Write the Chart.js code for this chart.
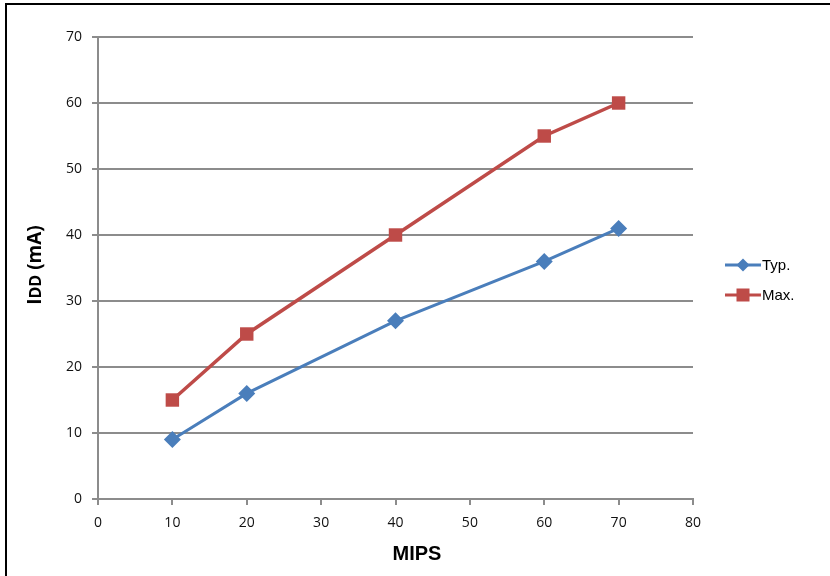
<!DOCTYPE html>
<html><head><meta charset="utf-8">
<script src="https://cdn.jsdelivr.net/npm/chart.js@4"></script>
<style>html,body{margin:0;padding:0;background:#fff;}#wrap{width:830px;height:576px;position:relative;}</style>
</head><body><div id="wrap"><canvas id="c" width="830" height="576"></canvas></div>
<script>
const mips = [10, 20, 40, 60, 70];
const typValues = [9, 16, 27, 36, 41];
const maxValues = [15, 25, 40, 55, 60];
const seriesNames = ["Typ.", "Max."];
const xTitle = "MIPS";
const yTitleParts = ["I", "DD", " (mA)"];

const BLUE = "#4a7ebb", RED = "#be4b48";
const toPts = (vals) => mips.map((x, i) => ({x: x, y: vals[i]}));

const framePlugin = {
  id: "frame",
  afterDraw(chart) {
    const ctx = chart.ctx;
    ctx.save();
    ctx.fillStyle = "#000";
    ctx.fillRect(5, 3, 825, 2);
    ctx.fillRect(5, 3, 2, 573);
    // x title
    ctx.font = "bold 20px 'Liberation Sans', Arial, sans-serif";
    ctx.textAlign = "center"; ctx.textBaseline = "middle";
    ctx.fillText(xTitle, 417, 554);
    // y title with small DD
    const big = "bold 19px 'Open Sans', sans-serif", small = "bold 16px 'Open Sans', sans-serif";
    const fonts = [big, small, big];
    let total = 0; const widths = [];
    yTitleParts.forEach((p, i) => { ctx.font = fonts[i]; const w = ctx.measureText(p).width; widths.push(w); total += w; });
    ctx.translate(41, 265); ctx.rotate(-Math.PI / 2);
    ctx.textAlign = "left"; ctx.textBaseline = "alphabetic";
    let xx = -total / 2;
    yTitleParts.forEach((p, i) => { ctx.font = fonts[i]; ctx.fillText(p, xx, 0); xx += widths[i]; });
    ctx.setTransform(1, 0, 0, 1, 0, 0);
    // legend
    const items = [
      {name: seriesNames[0], color: BLUE, style: "rectRot", y: 265},
      {name: seriesNames[1], color: RED, style: "rect", y: 295}
    ];
    items.forEach(it => {
      ctx.strokeStyle = it.color; ctx.lineWidth = 3;
      ctx.beginPath(); ctx.moveTo(725, it.y); ctx.lineTo(761, it.y); ctx.stroke();
      ctx.fillStyle = it.color;
      ctx.beginPath();
      if (it.style === "rect") { ctx.fillRect(743 - 6.5, it.y - 6.5, 13, 13); }
      else { ctx.moveTo(743, it.y - 6.5); ctx.lineTo(749.5, it.y); ctx.lineTo(743, it.y + 6.5); ctx.lineTo(736.5, it.y); ctx.closePath(); ctx.fill(); }
      ctx.fillStyle = "#000";
      ctx.font = "15px 'Liberation Sans Narrow', 'Liberation Sans', sans-serif";
      ctx.textBaseline = "middle"; ctx.textAlign = "left";
      ctx.fillText(it.name, 762, it.y + 1);
    });
    ctx.restore();
  }
};

new Chart(document.getElementById("c"), {
  type: "line",
  data: {
    datasets: [
      {label: seriesNames[0], data: toPts(typValues), borderColor: BLUE, backgroundColor: BLUE, borderWidth: 3,
       pointStyle: "rectRot", pointRadius: 8.5, pointBorderWidth: 0, pointBackgroundColor: BLUE, tension: 0},
      {label: seriesNames[1], data: toPts(maxValues), borderColor: RED, backgroundColor: RED, borderWidth: 3.5,
       pointStyle: "rect", pointRadius: 9.5, pointBorderWidth: 0, pointBackgroundColor: RED, tension: 0}
    ]
  },
  options: {
    responsive: false, animation: false, devicePixelRatio: 1,
    layout: {padding: {left: 0, right: 137, top: 37, bottom: 0}},
    plugins: {legend: {display: false}, tooltip: {enabled: false}},
    scales: {
      x: {
        type: "linear", min: 0, max: 80,
        ticks: {stepSize: 10, color: "#111", font: {family: "'Open Sans', sans-serif", size: 14}, padding: 10},
        grid: {drawOnChartArea: false, color: "#8c8c8c", lineWidth: 2, tickLength: 6, tickWidth: 2, tickColor: "#8c8c8c"},
        border: {color: "#8c8c8c", width: 2},
        afterFit(s) { s.height = 576 - 499; }
      },
      y: {
        min: 0, max: 70,
        ticks: {stepSize: 10, color: "#111", font: {family: "'Open Sans', sans-serif", size: 14}, padding: 10},
        grid: {color: "#8c8c8c", lineWidth: 2, tickLength: 6, tickWidth: 2, tickColor: "#8c8c8c"},
        border: {color: "#8c8c8c", width: 2},
        afterFit(s) { s.width = 98; }
      }
    }
  },
  plugins: [framePlugin]
});
</script></body></html>
